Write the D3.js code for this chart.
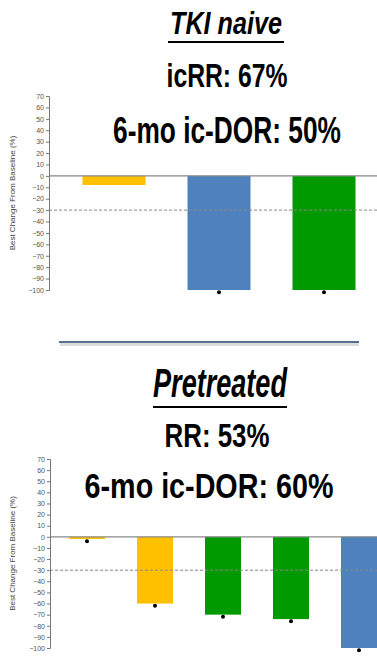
<!DOCTYPE html>
<html>
<head>
<meta charset="utf-8">
<script src="https://cdn.jsdelivr.net/npm/d3@7"></script>
<style>
  body { margin: 0; background: #fff; }
  svg { display: block; }
  .tick text { font-family: "Liberation Sans", Arial, sans-serif; font-size: 7px; fill: #555; }
  .tick line, .domain { stroke: #777; }
</style>
</head>
<body>
<div class="chart"></div>
<script>
// top panel: TKI naive
const naiveIds = ["n1", "n2", "n3"];
const naiveValues = [-8, -100, -100];
const naiveColors = ["#ffc000", "#4f81bd", "#009900"];
const naiveDots = [null, -102, -102];

// bottom panel: pretreated
const preIds = ["p1", "p2", "p3", "p4", "p5"];
const preValues = [-2, -60, -70, -74, -100];
const preColors = ["#ffc000", "#ffc000", "#009900", "#009900", "#4f81bd"];
const preDots = [-4, -62, -72, -76, -102];

const tickVals = d3.range(-100, 71, 10);
const threshold = -30;
const yTitle = "Best Change From Baseline (%)";

const W = 377, H = 658;
const svg = d3.select(".chart").append("svg")
    .attr("width", W)
    .attr("height", H);

const titleFont = '"Liberation Sans", Arial, sans-serif';

// condensed bold text: squeeze horizontally to the width seen in the picture
function bigText(x, y, size, len, txt, italic) {
    const g = svg.append("g");
    const t = g.append("text")
        .attr("x", 0)
        .attr("y", 0)
        .attr("text-anchor", "middle")
        .attr("font-family", titleFont)
        .attr("font-weight", "bold")
        .attr("font-size", size)
        .attr("fill", "#000")
        .text(txt);
    if (italic) t.attr("font-style", "italic");
    const natural = t.node().getComputedTextLength();
    g.attr("transform", `translate(${x},${y}) scale(${len / natural},1)`);
    return t;
}

function panel(ids, values, colors, dots, cfg) {
    const x = d3.scaleBand()
        .domain(ids)
        .range(cfg.xr)
        .paddingInner(cfg.pi)
        .paddingOuter(cfg.po);
    const y = d3.scaleLinear()
        .domain([-100, 70])
        .range(cfg.yr);

    const g = svg.append("g");

    // bars
    g.selectAll(".bar")
        .data(ids)
        .enter()
        .append("rect")
        .attr("x", d => x(d))
        .attr("width", x.bandwidth())
        .attr("y", y(0))
        .attr("height", (d, i) => y(values[i]) - y(0))
        .attr("fill", (d, i) => colors[i]);

    // zero and threshold lines
    g.append("line")
        .attr("x1", cfg.ax).attr("x2", W)
        .attr("y1", y(0)).attr("y2", y(0))
        .attr("stroke", "#888")
        .attr("stroke-width", 1.2);
    g.append("line")
        .attr("x1", cfg.ax).attr("x2", W)
        .attr("y1", y(threshold)).attr("y2", y(threshold))
        .attr("stroke", "#888")
        .attr("stroke-width", 1)
        .attr("stroke-dasharray", "3,2");

    // dots
    g.selectAll(".dot")
        .data(ids.filter((d, i) => dots[i] != null))
        .enter()
        .append("circle")
        .attr("cx", d => x(d) + x.bandwidth() / 2)
        .attr("cy", d => y(dots[ids.indexOf(d)]))
        .attr("r", 2)
        .attr("fill", "#000");

    // axis
    g.append("g")
        .attr("transform", `translate(${cfg.ax},0)`)
        .call(d3.axisLeft(y).tickValues(tickVals).tickSize(3).tickPadding(2).tickSizeOuter(3))
        .call(a => a.select(".domain").attr("stroke-width", 1));

    g.append("text")
        .attr("transform", `translate(15,${(cfg.yr[0] + cfg.yr[1]) / 2}) rotate(-90)`)
        .attr("text-anchor", "middle")
        .attr("font-family", "Liberation Sans, Arial, sans-serif")
        .attr("font-size", 8)
        .attr("fill", "#444")
        .text(yTitle);
}

// top titles
bigText(226, 34, 32, 112, "TKI naive", true);
svg.append("line")
    .attr("x1", 168).attr("x2", 284)
    .attr("y1", 42).attr("y2", 42)
    .attr("stroke", "#000").attr("stroke-width", 2);
bigText(227, 87, 33, 121, "icRR: 67%", false);
bigText(227, 143, 37, 228, "6-mo ic-DOR: 50%", false);

panel(naiveIds, naiveValues, naiveColors, naiveDots,
    {xr: [61.5, 376.5], pi: 0.4, po: 0.2, yr: [290, 96], ax: 49});

// divider
svg.append("line")
    .attr("x1", 60).attr("x2", 359)
    .attr("y1", 344.5).attr("y2", 344.5)
    .attr("stroke", "#dcdcdc").attr("stroke-width", 3);
svg.append("line")
    .attr("x1", 59).attr("x2", 359)
    .attr("y1", 342).attr("y2", 342)
    .attr("stroke", "#56718d").attr("stroke-width", 2);

// bottom titles
bigText(220, 397, 40, 134, "Pretreated", true);
svg.append("line")
    .attr("x1", 153).attr("x2", 287)
    .attr("y1", 407).attr("y2", 407)
    .attr("stroke", "#000").attr("stroke-width", 2);
bigText(217, 447, 33, 105, "RR: 53%", false);
bigText(209, 498, 36, 249, "6-mo ic-DOR: 60%", false);

panel(preIds, preValues, preColors, preDots,
    {xr: [53, 393], pi: 0.47, po: 0.235, yr: [648, 459], ax: 50});
</script>
</body>
</html>
